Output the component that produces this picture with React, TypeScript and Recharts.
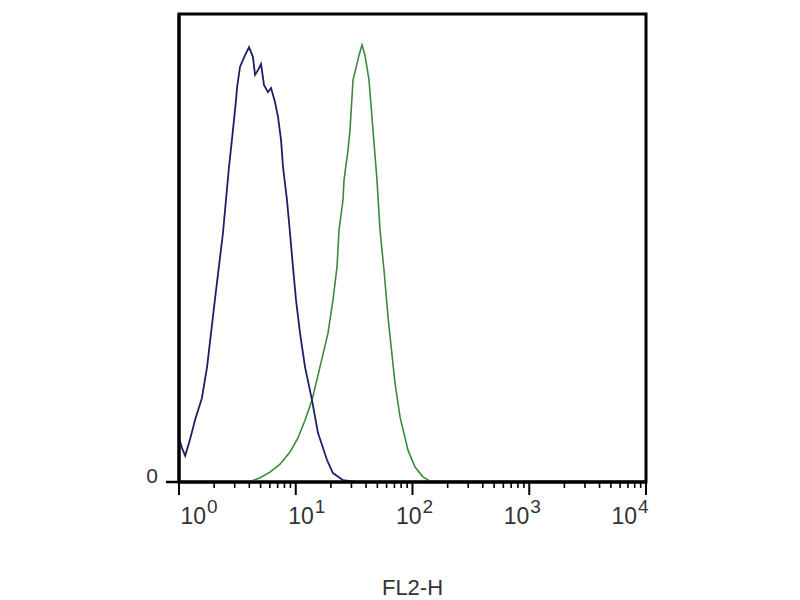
import React from "react";
import {
  LineChart,
  Line,
  XAxis,
  YAxis,
  ReferenceArea,
} from "recharts";

// FL2-H histogram: isotype control (blue) vs stained sample (green)

const controlFl2 = [
  1.01, 1.06, 1.13, 1.24, 1.37, 1.57, 1.74, 2.03, 2.38, 2.68, 2.84, 3.08,
  3.14, 3.33, 3.68, 3.98, 4.3, 4.48, 4.75, 5.04, 5.35, 5.79, 6.14, 6.64,
  7.05, 7.48, 7.78, 8.41, 8.93, 9.47, 10.05, 10.88, 12.0, 13.78, 15.5,
  18.52, 20.84, 25.4, 32.2, 10000,
];
const controlCounts = [
  9.0, 7.3, 5.6, 9.0, 13.2, 17.9, 24.6, 38.9, 53.2, 67.3, 73.1, 81.6, 84.2,
  88.7, 91.2, 92.9, 90.8, 87.0, 88.0, 89.3, 84.8, 83.3, 84.2, 81.2, 78.0,
  73.1, 67.3, 60.3, 53.2, 45.9, 38.9, 31.8, 24.6, 17.5, 10.5, 4.7, 1.9, 0.4,
  0.1, 0.1,
];

const sampleFl2 = [
  1.0, 4.06, 4.94, 6.02, 7.33, 8.93, 10.45, 12.0, 13.78, 16.13, 18.89, 20.84,
  22.56, 23.47, 25.4, 25.9, 28.03, 29.15, 30.94, 32.8, 34.83, 36.94, 39.19,
  42.41, 45.88, 49.65, 52.68, 57.0, 61.66, 70.8, 78.16, 91.5, 105.1, 123.0,
  141.2, 10000,
];
const sampleCounts = [
  0.2, 0.1, 0.9, 2.1, 3.8, 6.4, 9.4, 13.2, 17.5, 24.6, 31.8, 38.9, 45.9,
  53.8, 60.3, 64.5, 70.9, 75.2, 85.9, 88.5, 91.2, 93.4, 91.2, 85.9, 75.2,
  64.5, 53.8, 45.3, 35.3, 21.2, 13.9, 6.8, 3.2, 1.1, 0.2, 0.1,
];

const decades = [1, 10, 100, 1000, 10000];
const yTicks = [0];

const controlData = controlFl2.map((x, i) => ({ x, count: controlCounts[i] }));
const sampleData = sampleFl2.map((x, i) => ({ x, count: sampleCounts[i] }));

// major + minor log ticks
const xTicks: number[] = [];
decades.forEach((d, i) => {
  if (i === decades.length - 1) {
    xTicks.push(d);
    return;
  }
  for (let m = 1; m <= 9; m++) xTicks.push(d * m);
});

const FONT = "'Liberation Sans', Arial, sans-serif";

function LogTick(props: any) {
  const { x, y, payload } = props;
  const lg = Math.log10(payload.value);
  const exp = Math.round(lg);
  const major = Math.abs(lg - exp) < 1e-6;
  const baseEnd = x + 27 - 9 * exp;
  return (
    <g>
      <line
        x1={x}
        x2={x}
        y1={y}
        y2={y + (major ? 13 : 6)}
        stroke="#000"
        strokeWidth={major ? 2 : 1.6}
      />
      {major && (
        <>
          <text
            x={baseEnd}
            y={y + 42}
            textAnchor="end"
            fontSize={23}
            fill="#333"
            fontFamily={FONT}
          >
            10
          </text>
          <text
            x={baseEnd + 1}
            y={y + 31}
            textAnchor="start"
            fontSize={19}
            fill="#333"
            fontFamily={FONT}
          >
            {exp}
          </text>
        </>
      )}
    </g>
  );
}

function ZeroTick(props: any) {
  const { x, y, payload } = props;
  return (
    <text
      x={x}
      y={y + 1}
      textAnchor="end"
      fontSize={21}
      fill="#333"
      fontFamily={FONT}
    >
      {payload.value}
    </text>
  );
}

export default function App() {
  return (
    <div
      style={{
        position: "absolute",
        left: 0,
        top: 0,
        width: 800,
        height: 600,
        background: "#fff",
        fontFamily: FONT,
      }}
    >
      <LineChart
        width={800}
        height={600}
        margin={{ top: 14, right: 154, bottom: 0, left: 149 }}
      >
        <XAxis
          type="number"
          dataKey="x"
          scale="log"
          domain={[1, 10000]}
          ticks={xTicks}
          interval={0}
          allowDataOverflow
          height={118}
          tickSize={0}
          tickMargin={0}
          tickLine={false}
          axisLine={{ stroke: "#000", strokeWidth: 3 }}
          tick={<LogTick />}
          label={{
            value: "FL2-H",
            position: "insideBottom",
            offset: 5,
            fontSize: 22,
            fill: "#333",
            fontFamily: FONT,
          }}
        />
        <YAxis
          type="number"
          dataKey="count"
          domain={[0, 100]}
          ticks={yTicks}
          width={30}
          tickSize={13}
          tickMargin={8}
          tickLine={{ stroke: "#000", strokeWidth: 2.5 }}
          axisLine={{ stroke: "#000", strokeWidth: 3 }}
          tick={<ZeroTick />}
        />
        <ReferenceArea
          x1={1}
          x2={10000}
          y1={0}
          y2={100}
          fill="none"
          stroke="#000"
          strokeWidth={3}
          ifOverflow="visible"
        />
        <Line
          data={sampleData}
          dataKey="count"
          type="linear"
          stroke="#3b8a3b"
          strokeWidth={1.6}
          dot={false}
          isAnimationActive={false}
        />
        <Line
          data={controlData}
          dataKey="count"
          type="linear"
          stroke="#1e1f66"
          strokeWidth={1.8}
          dot={false}
          isAnimationActive={false}
        />
      </LineChart>
    </div>
  );
}
